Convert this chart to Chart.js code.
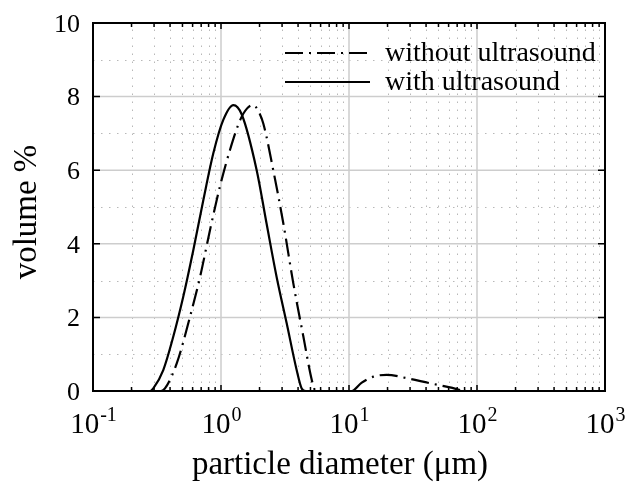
<!DOCTYPE html>
<html lang="en">
<head>
    <meta charset="UTF-8">
    <title>Particle Size Distribution</title>
    <script src="https://cdn.jsdelivr.net/npm/chart.js"></script>
    <style>
        body { margin: 0; background: #fff; }
    </style>
</head>
<body>
    <canvas id="psdChart" width="627" height="482"></canvas>
    <script>
        // particle diameter (um) and volume % for each measurement
        const withoutDiam = [0.1, 0.34, 0.365, 0.451, 0.573, 0.686, 0.82, 0.98, 1.175, 1.41, 1.6, 1.79, 1.95, 2.14, 2.56, 3.07, 3.67, 4.4, 5.12, 5.42, 5.7, 10.5, 12.5, 15.5, 19.7, 28.2, 43, 61.5, 83, 1000];
        const withoutVol  = [0, 0, 0.07, 0.75, 2.02, 3.1, 4.37, 5.55, 6.55, 7.36, 7.68, 7.77, 7.62, 7.27, 6.0, 4.55, 2.93, 1.48, 0.3, 0.03, 0, 0, 0.22, 0.39, 0.44, 0.35, 0.21, 0.10, 0, 0];

        const withDiam = [0.1, 0.28, 0.296, 0.354, 0.424, 0.507, 0.608, 0.728, 0.871, 1.04, 1.25, 1.45, 1.9, 2.27, 2.72, 3.26, 3.9, 4.27, 4.6, 1000];
        const withVol  = [0, 0, 0.07, 0.57, 1.48, 2.56, 3.83, 5.19, 6.46, 7.36, 7.77, 7.52, 6.0, 4.55, 3.1, 1.84, 0.57, 0.07, 0, 0];

        const xDecades = [0.1, 1, 10, 100, 1000];
        const xExponents = ['-1', '0', '1', '2', '3'];
        const yTicks = [0, 2, 4, 6, 8, 10];

        const serif = '"Liberation Serif", "Times New Roman", serif';

        function toPoints(xs, ys) {
            return xs.map((x, i) => ({ x: x, y: ys[i] }));
        }

        // grid, frame, inner ticks, tick labels, axis titles and legend
        const framePlugin = {
            id: 'frame',
            beforeDatasetsDraw(chart) {
                const { ctx, chartArea: a, scales: { x, y } } = chart;
                ctx.save();

                // minor grid (dotted)
                ctx.strokeStyle = '#b8b8b8';
                ctx.lineWidth = 1;
                ctx.setLineDash([1.5, 6.5]);
                for (let d = 0; d < xDecades.length - 1; d++) {
                    for (let m = 2; m <= 9; m++) {
                        const px = Math.round(x.getPixelForValue(xDecades[d] * m)) + 0.5;
                        ctx.beginPath();
                        ctx.moveTo(px, a.bottom);
                        ctx.lineTo(px, a.top);
                        ctx.stroke();
                    }
                }
                for (let v = 1; v < 10; v += 2) {
                    const py = Math.round(y.getPixelForValue(v)) + 0.5;
                    ctx.beginPath();
                    ctx.moveTo(a.left, py);
                    ctx.lineTo(a.right, py);
                    ctx.stroke();
                }

                // major grid (solid)
                ctx.setLineDash([]);
                ctx.strokeStyle = '#cdcdcd';
                ctx.lineWidth = 1.5;
                xDecades.slice(1, -1).forEach(v => {
                    const px = x.getPixelForValue(v);
                    ctx.beginPath();
                    ctx.moveTo(px, a.bottom);
                    ctx.lineTo(px, a.top);
                    ctx.stroke();
                });
                yTicks.slice(1, -1).forEach(v => {
                    const py = y.getPixelForValue(v);
                    ctx.beginPath();
                    ctx.moveTo(a.left, py);
                    ctx.lineTo(a.right, py);
                    ctx.stroke();
                });
                ctx.restore();
            },
            afterDatasetsDraw(chart) {
                const { ctx, chartArea: a, scales: { x, y } } = chart;
                ctx.save();
                ctx.strokeStyle = '#000';

                // inner tick marks on all four sides
                ctx.lineWidth = 1.5;
                for (let d = 0; d < xDecades.length - 1; d++) {
                    for (let m = 1; m <= 9; m++) {
                        const px = x.getPixelForValue(xDecades[d] * m);
                        const len = m === 1 ? 6 : 4;
                        ctx.beginPath();
                        ctx.moveTo(px, a.bottom);
                        ctx.lineTo(px, a.bottom - len);
                        ctx.moveTo(px, a.top);
                        ctx.lineTo(px, a.top + len);
                        ctx.stroke();
                    }
                }
                yTicks.forEach(v => {
                    const py = y.getPixelForValue(v);
                    ctx.beginPath();
                    ctx.moveTo(a.left, py);
                    ctx.lineTo(a.left + 7, py);
                    ctx.moveTo(a.right, py);
                    ctx.lineTo(a.right - 7, py);
                    ctx.stroke();
                });

                // frame
                ctx.lineWidth = 2;
                ctx.strokeRect(a.left, a.top, a.right - a.left, a.bottom - a.top);

                // tick labels
                ctx.fillStyle = '#000';
                ctx.font = '26px ' + serif;
                ctx.textAlign = 'right';
                ctx.textBaseline = 'middle';
                yTicks.forEach(v => {
                    ctx.fillText(String(v), a.left - 13, y.getPixelForValue(v) + 2);
                });

                ctx.textBaseline = 'alphabetic';
                ctx.textAlign = 'left';
                xDecades.forEach((v, i) => {
                    const px = x.getPixelForValue(v);
                    ctx.font = '29px ' + serif;
                    const base = ctx.measureText('10').width;
                    ctx.font = '20px ' + serif;
                    const sup = ctx.measureText(xExponents[i]).width;
                    const left = px - (base + sup) / 2;
                    ctx.font = '29px ' + serif;
                    ctx.fillText('10', left, a.bottom + 42);
                    ctx.font = '20px ' + serif;
                    ctx.fillText(xExponents[i], left + base + 1, a.bottom + 30);
                });

                // axis titles
                ctx.font = '33px ' + serif;
                ctx.textAlign = 'center';
                ctx.textBaseline = 'alphabetic';
                ctx.fillText('particle diameter (\u03bcm)', (a.left + a.right) / 2 - 9, a.bottom + 83);
                ctx.save();
                ctx.translate(36, (a.top + a.bottom) / 2 + 5);
                ctx.rotate(-Math.PI / 2);
                ctx.fillText('volume %', 0, 0);
                ctx.restore();

                // legend
                ctx.font = '28px ' + serif;
                ctx.textAlign = 'left';
                ctx.textBaseline = 'middle';
                chart.data.datasets.forEach((ds, i) => {
                    const ly = 53 + i * 29;
                    ctx.lineWidth = ds.borderWidth;
                    ctx.setLineDash(ds.borderDash || []);
                    ctx.beginPath();
                    ctx.moveTo(285, ly);
                    ctx.lineTo(370, ly);
                    ctx.stroke();
                    ctx.setLineDash([]);
                    ctx.fillText(ds.label, 385, ly + 1);
                });
                ctx.restore();
            }
        };

        const ctx = document.getElementById('psdChart').getContext('2d');
        const chart = new Chart(ctx, {
            type: 'line',
            data: {
                datasets: [{
                    label: 'without ultrasound',
                    data: toPoints(withoutDiam, withoutVol),
                    borderColor: '#000',
                    borderWidth: 2.2,
                    borderDash: [18, 6, 2, 6],
                    pointRadius: 0,
                    cubicInterpolationMode: 'monotone',
                    fill: false
                },
                {
                    label: 'with ultrasound',
                    data: toPoints(withDiam, withVol),
                    borderColor: '#000',
                    borderWidth: 2.2,
                    pointRadius: 0,
                    cubicInterpolationMode: 'monotone',
                    fill: false
                }]
            },
            options: {
                responsive: false,
                animation: false,
                layout: {
                    padding: { left: 93, top: 23, right: 22, bottom: 91 }
                },
                scales: {
                    x: {
                        type: 'logarithmic',
                        min: 0.1,
                        max: 1000,
                        display: false
                    },
                    y: {
                        min: 0,
                        max: 10,
                        display: false
                    }
                },
                plugins: {
                    legend: { display: false },
                    tooltip: { enabled: false }
                }
            },
            plugins: [framePlugin]
        });
    </script>
</body>
</html>
